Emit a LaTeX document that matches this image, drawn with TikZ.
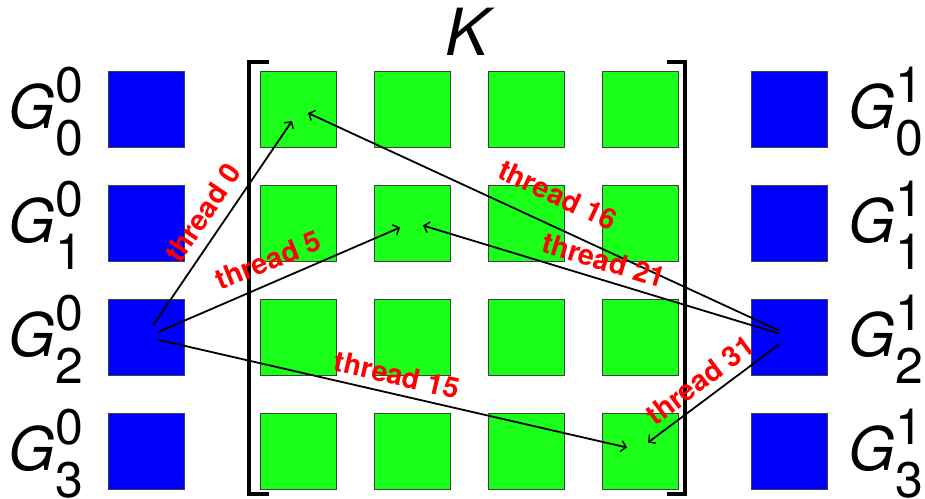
\documentclass[tikz,border=0pt]{standalone}
\usepackage{fontspec}
\setmainfont{TeX Gyre Heros}
\usetikzlibrary{arrows.meta,calc}
\definecolor{gblue}{HTML}{0000FF}
\definecolor{ggreen}{HTML}{19FF19}
\definecolor{gred}{HTML}{FF0000}
\definecolor{gedge}{HTML}{404040}
\newcommand{\Gfnt}{\fontsize{60}{60}\selectfont}
\newcommand{\Dfnt}{\fontsize{50}{50}\selectfont}
\newcommand{\glab}[2]{{\Gfnt\textit{G}}\kern1pt\rlap{\raisebox{26pt}{\Dfnt #1}}\raisebox{-27pt}{\Dfnt #2}}
\begin{document}
\begin{tikzpicture}[x=1pt,y=-1pt,
  sqbase/.style={minimum size=76pt,inner sep=0pt,draw=gedge,line width=0.8pt},
  bsq/.style={sqbase,fill=gblue},
  gsq/.style={sqbase,fill=ggreen},
  glabel/.style={anchor=base west,inner sep=0pt},
  lbl/.style={text=gred,font=\fontsize{28.5}{28.5}\selectfont\bfseries,inner sep=0pt},
  arr/.style={line width=1.8pt,-{Straight Barb[length=5pt,width=11pt,line width=1.4pt]}},
  brk/.style={line width=4pt,line join=miter}]
\useasboundingbox (0,0) rectangle (925,498);
% K label
\node[anchor=base,inner sep=0pt] (K) at (470,55) {\fontsize{65}{65}\selectfont\textit{K}};
% left and right blue squares and labels
\foreach \r in {0,1,2,3}{
  \node[bsq] (l\r) at (146,{109.5+114*\r}) {};
  \node[bsq] (r\r) at (789,{109.5+114*\r}) {};
  \node[glabel] (gl\r) at (8,{128+114*\r}) {\glab{0}{\r}};
  \node[glabel] (gr\r) at (848,{128+114*\r}) {\glab{1}{\r}};
  \foreach \c in {0,1,2,3}{
    \node[gsq] (k\r\c) at ({298+114*\c},{109.5+114*\r}) {};
  }
}
% brackets
\coordinate (bl1) at (269,62);
\coordinate (bl2) at (249,494);
\coordinate (bl3) at (269,494);
\coordinate (br1) at (667,62);
\coordinate (br2) at (685,494);
\coordinate (br3) at (667,494);
\draw[brk] (bl1) -| (bl2) -- (bl3);
\draw[brk] (br1) -| (br2) -- (br3);
% arrow start and end points
\coordinate (s0) at ($(l2)+(7,-12)$);
\coordinate (s5) at ($(l2)+(11,-5)$);
\coordinate (s15) at ($(l2)+(11,2)$);
\coordinate (s16) at ($(r2)+(-10,-7)$);
\coordinate (s21) at ($(r2)+(-10,-4)$);
\coordinate (s31) at ($(r2)+(-10,7)$);
\coordinate (e0) at ($(k00)+(-6,11.5)$);
\coordinate (e16) at ($(k00)+(10,3.5)$);
\coordinate (e5) at ($(k11)+(-12,4)$);
\coordinate (e21) at ($(k11)+(11,2)$);
\coordinate (e15) at ($(k33)+(-13,-4)$);
\coordinate (e31) at ($(k33)+(8,-9)$);
\draw[arr] (s0) -- (e0);
\draw[arr] (s5) -- (e5);
\draw[arr] (s15) -- (e15);
\draw[arr] (s16) -- (e16);
\draw[arr] (s21) -- (e21);
\draw[arr] (s31) -- (e31);
% thread labels
\node[lbl,rotate=56] (t0) at (203,213) {thread 0};
\node[lbl,rotate=22] (t5) at (268,260) {thread 5};
\node[lbl,rotate=-13] (t15) at (397,375) {thread 15};
\node[lbl,rotate=-25] (t16) at (558,195) {thread 16};
\node[lbl,rotate=-17] (t21) at (604,260) {thread 21};
\node[lbl,rotate=37] (t31) at (700,380) {thread 31};
\end{tikzpicture}
\end{document}
